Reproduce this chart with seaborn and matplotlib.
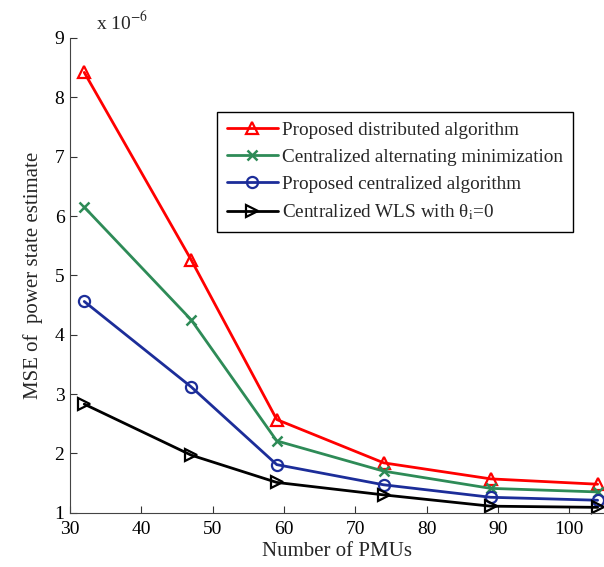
import matplotlib
matplotlib.use("Agg")
import matplotlib.pyplot as plt
import seaborn as sns
import pandas as pd

pmus = [32, 47, 59, 74, 89, 104]
distributed = [8.42, 5.26, 2.57, 1.84, 1.57, 1.48]
alt_min = [6.15, 4.25, 2.21, 1.70, 1.41, 1.35]
centralized = [4.56, 3.12, 1.81, 1.47, 1.26, 1.21]
wls = [2.83, 1.97, 1.51, 1.30, 1.11, 1.09]

labels = ["Proposed distributed algorithm",
          "Centralized alternating minimization",
          "Proposed centralized algorithm",
          "Centralized WLS with θ$_\\mathrm{i}$=0"]
series = [distributed, alt_min, centralized, wls]
colors = ["#ff0000", "#2e8b57", "#1c2d99", "#000000"]
markers = ["^", "x", "o", ">"]
msizes = [9, 7, 8, 9]

sns.set_style("ticks")
plt.rcParams["font.family"] = ["Liberation Serif", "DejaVu Serif"]
plt.rcParams["mathtext.fontset"] = "stix"
plt.rcParams["xtick.direction"] = "in"
plt.rcParams["ytick.direction"] = "in"

fig = plt.figure(figsize=(6.04, 5.67), dpi=100)
ax = fig.add_axes([70 / 604, (567 - 512.7) / 567, 534.75 / 604, (512.7 - 38) / 567])

for lab, vals, c, m, ms in zip(labels, series, colors, markers, msizes):
    df = pd.DataFrame({"x": pmus, "y": vals})
    kw = dict(markerfacecolor="none", markeredgecolor=c, markeredgewidth=1.6)
    if m == "x":
        kw = dict(markeredgecolor=c, markeredgewidth=1.8)
    sns.lineplot(data=df, x="x", y="y", ax=ax, color=c, marker=m, markersize=ms,
                 linewidth=2, label=lab, clip_on=False, **kw)

ax.set_xlim(30, 105)
ax.set_ylim(1, 9)
ax.set_xticks([30, 40, 50, 60, 70, 80, 90, 100])
ax.set_yticks([1, 2, 3, 4, 5, 6, 7, 8, 9])
ax.tick_params(axis="both", labelsize=14, length=5, width=0.8, colors="#333333",
               labelcolor="black")
ax.tick_params(axis="x", pad=6)
ax.tick_params(axis="y", pad=4)
for s in ["top", "right"]:
    ax.spines[s].set_visible(False)
for s in ["left", "bottom"]:
    ax.spines[s].set_color("#444444")
    ax.spines[s].set_linewidth(0.8)

ax.set_xlabel("Number of PMUs", fontsize=15, labelpad=3)
ax.set_ylabel("MSE of  power state estimate", fontsize=15, labelpad=8)
fig.text(96 / 604, 1 - 22 / 567, r"x 10$^{-6}$", fontsize=14, ha="left", va="center")

leg = ax.legend(loc="upper left", bbox_to_anchor=((217 - 70) / 534.75, (512.7 - 112) / 474.7),
                fontsize=13.8, frameon=True, fancybox=False, framealpha=1,
                edgecolor="black", borderpad=0.5, labelspacing=0.5,
                handlelength=2.7, handletextpad=0.2, borderaxespad=0)
leg.get_frame().set_linewidth(1.0)

fig.savefig("out.png", dpi=100)
